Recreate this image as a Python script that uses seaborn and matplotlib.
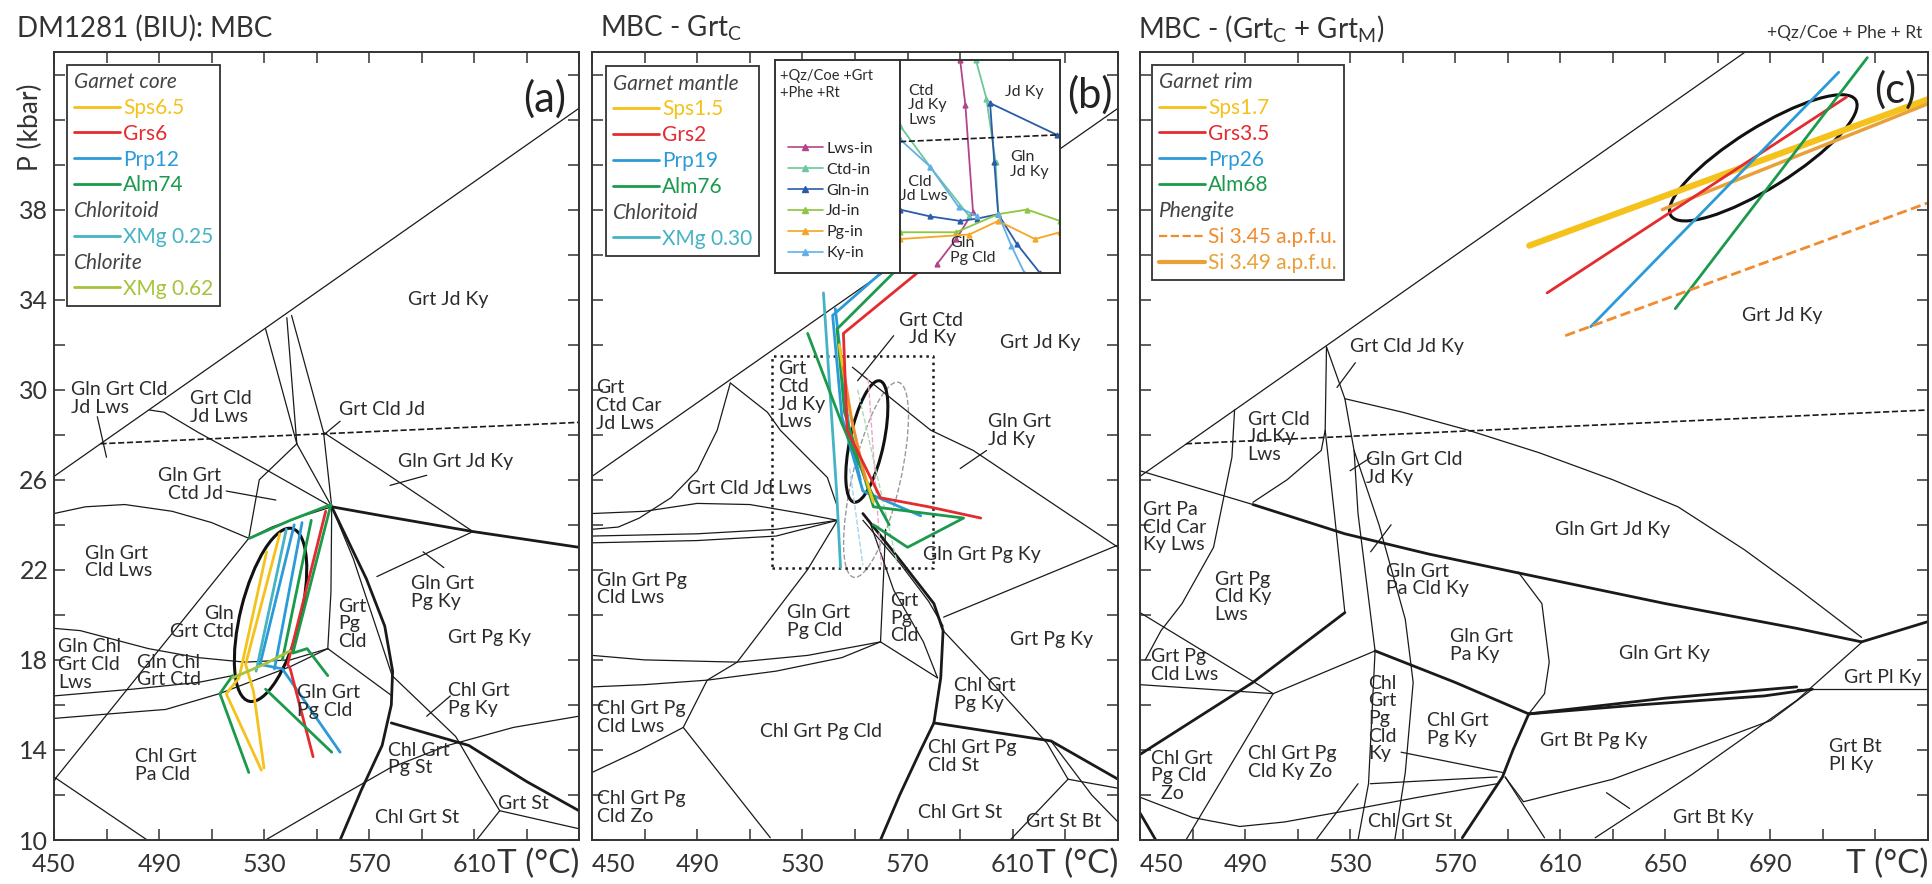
"""
Pseudosections DM1281 (BIU) - MBC, with isopleths of garnet, chloritoid, chlorite and phengite
"""
import pandas as pd
import seaborn as sns
import matplotlib.pyplot as plt
import matplotlib.transforms as mtransforms
from matplotlib.lines import Line2D
from matplotlib.patches import Ellipse

sns.set_style("ticks")
plt.rcParams['font.family'] = ['Lato', 'DejaVu Sans']
plt.rcParams['mathtext.default'] = 'regular'

DPI = 100
P_RANGE = (10, 45)
A_TMAX, B_TMAX, C_TMAX = 650, 650, 750

SPS, GRS, PRP, ALM = '#f4c21b', '#e42b2f', '#2b9bd8', '#1b9a4c'
CTD, CHL = '#45b3c3', '#a5c33b'
PHE_D, PHE_S = '#f08b2e', '#e8a13a'
TXT = '#2b2b2b'

# ---------------- panel (a): DM1281 (BIU): MBC ----------------
A_THIN = [
    [(450, 26.15), (650, 42.5)],
    [(530.6, 32.7), (542.5, 27.6), (528.2, 26.0), (524.2, 23.4), (451, 12.8), (450, 12.6)],
    [(538.7, 33.2), (542.5, 27.6)],
    [(540.5, 33.3), (552.7, 28.1), (555.8, 24.8)],
    [(542.5, 27.6), (555.8, 24.8)],
    [(486.3, 29.1), (492, 29.0), (505, 28.1), (530, 26.5), (555.8, 24.8)],
    [(466.5, 28.8), (470, 27.0)],
    [(450, 24.5), (462, 24.8), (477, 24.9), (495, 24.6), (510, 24.1), (524.2, 23.4)],
    [(524.2, 23.4), (533, 23.9), (545, 24.4), (555.8, 24.8)],
    [(573, 21.7), (609.6, 23.7)],
    [(555.8, 24.8), (564, 22.5), (574, 19.0), (578.8, 17.3)],
    [(555.8, 24.8), (555.5, 21.0), (554.3, 18.5)],
    [(554.3, 18.5), (578.8, 16.4)],
    [(554.3, 18.5), (540, 18.0), (522.7, 17.9)],
    [(450, 19.4), (460, 19.3), (486, 18.5), (505, 18.1), (522.7, 17.9)],
    [(450, 16.4), (480, 16.7), (505, 17.0), (518, 17.3)],
    [(450, 15.4), (471, 15.6), (492.6, 15.8), (513, 16.5), (540, 17.7), (554.3, 18.5)],
    [(450, 12.8), (485.5, 10.0)],
    [(530.6, 10.0), (560, 12.0), (578, 13.2), (600, 14.2), (625, 15.0), (650, 15.5)],
    [(578.8, 17.3), (603, 14.6), (612, 12.8), (619.8, 11.3)],
    [(619.8, 11.3), (611, 10.0)],
    [(619.8, 11.3), (650, 10.5)],
    [(552.7, 28.1), (575, 26.4), (609.6, 23.7)],
    [(515.6, 25.5), (534.5, 25.1)],
    [(578, 25.75), (592, 26.2)],
    [(590.6, 22.8), (598.5, 22.1)],
    [(592, 15.5), (601, 16.4)],
    [(559, 28.6), (552.8, 28.0)],
]
A_THICK = [
    [(555.8, 24.8), (575, 24.4), (609.6, 23.7), (650, 23.0)],
    [(555.8, 24.8), (569, 21.6), (576, 19.5), (579, 17.5), (578.5, 16.0), (575, 14.2),
     (567, 12.2), (559, 10.0)],
    [(578.5, 15.2), (608, 14.2), (630, 12.6), (650, 11.3)],
]
A_DASHED = [[(467.7, 27.6), (650, 28.55)]]
A_ISO = [
    (SPS, [(536, 23.6), (523, 17.8), (526, 16.6), (530, 13.2)]),
    (SPS, [(531, 22.8), (520.5, 17.2), (515.6, 16.5), (529, 13.1)]),
    (CTD, [(538.5, 23.8), (527, 17.5)]),
    (PRP, [(541.5, 24.0), (528.5, 17.8), (537, 17.6), (559, 13.9)]),
    (PRP, [(544.5, 24.1), (534, 17.6)]),
    (GRS, [(553.5, 24.6), (539, 17.8), (540, 17.6), (548.7, 13.7)]),
    (ALM, [(524.5, 23.4), (540, 24.2), (555.5, 24.9)]),
    (ALM, [(555.5, 24.9), (541, 18.3), (546.4, 18.5), (554.3, 17.3)]),
    (ALM, [(548, 24.2), (537, 18.0)]),
    (ALM, [(518, 17.3), (513.2, 16.5), (524.2, 13.0)]),
    (ALM, [(530.6, 16.7), (555.8, 13.9)]),
    (CHL, [(518, 17.2), (530, 17.8), (540, 18.4)]),
]
A_ELLIPSE = (532.5, 20.0, 89, 30, 76)
A_LABELS = [
    ("Grt Jd Ky", 585, 34.0, 'left'),
    ("Gln Grt Cld\nJd Lws", 456.3, 29.6, 'left'),
    ("Grt Cld\nJd Lws", 502, 29.2, 'left'),
    ("Grt Cld Jd", 558.5, 29.1, 'left'),
    ("Gln Grt\n  Ctd Jd", 489.5, 25.8, 'left'),
    ("Gln Grt Jd Ky", 581, 26.8, 'left'),
    ("Gln Grt\nCld Lws", 461.8, 22.35, 'left'),
    ("Gln Grt\nPg Ky", 586, 21.0, 'left'),
    ("Grt Pg Ky", 600, 19.0, 'left'),
    ("Grt\nPg\nCld", 558.3, 19.6, 'left'),
    ("Gln\nGrt Ctd", 518.5, 19.65, 'right'),
    ("Gln Chl\nGrt Cld\nLws", 451.6, 17.8, 'left'),
    ("Gln Chl\nGrt Ctd", 481.6, 17.5, 'left'),
    ("Gln Grt\nPg Cld", 542.4, 16.15, 'left'),
    ("Chl Grt\nPg Ky", 600, 16.25, 'left'),
    ("Chl Grt\nPa Cld", 480.8, 13.3, 'left'),
    ("Chl Grt\nPg St", 577.2, 13.6, 'left'),
    ("Chl Grt St", 572.4, 11.0, 'left'),
    ("Grt St", 619, 11.6, 'left'),
]

# ---------------- panel (b): MBC - Grt_C ----------------
B_THIN = [
    [(450, 26.15), (650, 42.5)],
    [(450, 23.8), (460, 23.9), (468, 24.3), (480, 25.2), (490, 26.4), (497.6, 28.2), (502.6, 30.3)],
    [(502.6, 30.3), (516.7, 29.0), (521.6, 28.2), (539.5, 26.1), (543.3, 24.8)],
    [(450, 24.5), (470, 24.6), (490, 24.95), (510, 24.9), (530, 24.5), (543.3, 24.2)],
    [(450, 23.5), (490, 23.6), (520, 23.8), (543.3, 24.2)],
    [(450, 23.2), (490, 23.3), (520, 23.5), (543.3, 24.2)],
    [(543.3, 24.2), (531.9, 22.0), (505.2, 17.9), (493.8, 17.1), (484.7, 15.0), (468.3, 14.0),
     (450, 13.0)],
    [(450, 18.2), (470, 18.0), (505.2, 17.9), (532, 18.2), (559.7, 18.8)],
    [(450, 16.8), (470, 16.9), (493.8, 17.1), (520, 17.5), (545, 18.1), (559.7, 18.8)],
    [(559.7, 18.8), (561, 22.1), (561.6, 23.8)],
    [(559.7, 18.8), (581.4, 17.2)],
    [(556, 24.0), (564.7, 21.1), (576, 18.8), (581.4, 17.2)],
    [(553, 24.2), (567, 22.3), (578, 20.6), (583.5, 19.5)],
    [(583.7, 19.9), (650, 23.1)],
    [(549, 31.0), (578.8, 28.2), (595, 27.3), (650, 23.0)],
    [(583.5, 19.3), (602, 17.0), (623, 14.3), (631, 12.7)],
    [(631, 12.7), (609, 10.0)],
    [(631, 12.7), (650, 12.3)],
    [(624.5, 14.4), (640, 12.0), (650, 10.8)],
    [(484.7, 15.0), (517.8, 10.1)],
    [(564.7, 32.4), (551, 30.4)],
    [(590, 26.5), (600, 27.3)],
]
B_THICK = [
    [(553, 24.5), (566, 22.6), (580, 20.5), (583.5, 19.3), (582.6, 17.2), (580, 15.2),
     (575, 14.0), (567, 12.0), (559.7, 10.0)],
    [(580, 15.2), (624.5, 14.4), (650, 12.7)],
]
B_BOX = [[(518.6, 22.1), (579.5, 22.1), (579.5, 31.5), (518.6, 31.5), (518.6, 22.1)]]
B_ISO = [
    (CTD, [(538, 34.3), (541, 29.0), (543, 25.5), (544.5, 22.1)]),
    (PRP, [(560, 35.2), (541.5, 33.3), (545, 28.8), (553, 25.5), (575, 24.4)]),
    (PRP, [(542.5, 33.6), (548, 28.0), (552, 26.0)]),
    (ALM, [(532, 32.5), (545, 28.5), (556, 25.5), (563, 24.0)]),
    (ALM, [(564.7, 35.2), (543.2, 32.7), (546, 29.0), (557, 24.8), (591.3, 24.3), (570, 23.0),
           (557, 24.0)]),
    (SPS, [(544, 32.0), (548, 29.0), (553, 26.5), (557, 25.0)]),
    (PHE_D, [(545.5, 31.0), (549, 28.5), (554, 26.0)]),
    (GRS, [(573.8, 35.2), (545.6, 32.5), (547, 28.2), (559.7, 25.2), (578, 24.8), (597.8, 24.3)]),
]
B_PASTEL = [
    ('#e9a6c9', [(555, 30.5), (560, 22.2)]),
    ('#a8dcb5', [(551, 30.0), (566, 22.3)]),
    ('#a7d3f0', [(548, 26.5), (553, 22.2)]),
]
B_ELLIPSE = (554.5, 27.7, 62, 17, 78)
B_OLD_ELLIPSE = (558, 26.0, 100, 24, 77)
B_LABELS = [
    ("Grt\nCtd Car\nJd Lws", 451.5, 29.3, 'left'),
    ("Grt\nCtd\nJd Ky\nLws", 520.9, 29.75, 'left'),
    ("Grt Ctd\n  Jd Ky", 566.6, 32.7, 'left'),
    ("Grt Jd Ky", 605, 32.1, 'left'),
    ("Gln Grt\nJd Ky", 600.5, 28.2, 'left'),
    ("Grt Cld Jd Lws", 486, 25.6, 'left'),
    ("Gln Grt Pg Ky", 575.7, 22.7, 'left'),
    ("Gln Grt Pg\nCld Lws", 452, 21.15, 'left'),
    ("Gln Grt\nPg Cld", 524, 19.7, 'left'),
    ("Grt\nPg\nCld", 563.5, 19.85, 'left'),
    ("Grt Pg Ky", 609, 18.9, 'left'),
    ("Chl Grt\nPg Ky", 587.5, 16.45, 'left'),
    ("Chl Grt Pg\nCld Lws", 452, 15.45, 'left'),
    ("Chl Grt Pg Cld", 514, 14.8, 'left'),
    ("Chl Grt Pg\nCld St", 577.6, 13.7, 'left'),
    ("Chl Grt Pg\nCld Zo", 452, 11.45, 'left'),
    ("Chl Grt St", 574, 11.2, 'left'),
    ("Grt St Bt", 615, 10.8, 'left'),
]
# inset of panel (b): phase-in lines
INSET_LIMITS = ((518.6, 579.5), (22.1, 31.5))
LWS_IN, CTD_IN, GLN_IN = '#b5448a', '#6cc79a', '#2a5caa'
JD_IN, PG_IN, KY_IN = '#8dc63f', '#f5a623', '#62b0e8'
INSET_LINES = [
    (LWS_IN, [(541.5, 31.5), (543.5, 29.5), (546.4, 24.8), (540, 23.6), (532.7, 22.5)]),
    (CTD_IN, [(547.5, 31.5), (551.5, 29.8), (555, 27.0), (556, 24.7)]),
    (CTD_IN, [(518.6, 28.6), (530, 26.8), (545, 24.6)]),
    (GLN_IN, [(552.9, 29.6), (578.3, 28.2)]),
    (GLN_IN, [(552.9, 29.6), (554.5, 27.0), (556, 24.7), (563, 23.4), (571.9, 22.1)]),
    (GLN_IN, [(518.6, 24.9), (530, 24.6), (541.5, 24.4), (548, 24.5), (556, 24.7)]),
    (JD_IN, [(518.6, 23.9), (540, 23.9), (556, 24.7), (567, 24.9), (579.5, 24.4)]),
    (PG_IN, [(518.6, 23.6), (545, 23.8), (556, 24.4), (570, 23.6), (579.5, 23.9)]),
    (KY_IN, [(518.6, 28.0), (530, 26.8), (541, 25.0), (548, 24.6)]),
    (KY_IN, [(556, 24.7), (561, 23.3), (566, 22.1)]),
]
INSET_DASHED = [[(518.6, 27.9), (579.5, 28.2)]]
INSET_LABELS = [
    ("Ctd\nJd Ky\nLws", 521.8, 29.5),
    ("Jd Ky", 558.6, 30.1),
    ("Gln\nJd Ky", 560.5, 26.9),
    ("  Cld\nJd Lws", 518.6, 25.8),
    ("Gln\nPg Cld", 537.6, 23.1),
]

# ---------------- panel (c): MBC - (Grt_C + Grt_M) ----------------
C_THIN = [
    [(450, 26.15), (680.4, 45)],
    [(521, 31.9), (520.5, 28.2), (519, 27.3), (506, 26.0), (493, 25.0)],
    [(520.5, 28.2), (524, 24.5), (528, 20.1)],
    [(521, 31.9), (528, 29.6), (531.5, 27.3), (533, 24.5), (539.5, 18.4)],
    [(528, 29.6), (550, 29.0), (575, 28.2), (602, 27.2), (630, 26.0), (654.8, 24.8), (680, 22.9),
     (700, 21.2), (724.7, 19.0)],
    [(450, 26.4), (493, 24.9)],
    [(594, 21.9), (603, 20.5), (605.8, 17.9), (604, 16.5), (598, 15.6)],
    [(700, 16.7), (750, 16.7)],
    [(450, 16.9), (500.7, 16.5)],
    [(539.5, 18.4), (500.7, 16.5)],
    [(500.7, 16.5), (467.5, 10.0)],
    [(450, 20.1), (500.7, 16.5)],
    [(486, 29.1), (485, 27.0), (478, 23.0), (466, 20.5), (458, 19.3), (452, 18.0)],
    [(531.5, 27.3), (541, 24.0), (551, 19.8), (554, 17.0), (551, 13.0), (547, 10.0)],
    [(539.5, 18.4), (537, 12.5), (533, 10.0)],
    [(549.4, 13.9), (588, 13.0)],
    [(537.7, 12.5), (586, 12.8)],
    [(450, 11.9), (470, 11.0), (488, 10.6), (505, 10.8), (524, 11.2), (556, 11.9), (586, 12.5)],
    [(589, 12.8), (604, 10.1)],
    [(589, 12.8), (596, 11.7), (630, 12.7), (660, 14.0), (690, 15.3), (706, 16.7)],
    [(623.3, 10.1), (660, 12.9), (700, 16.2), (725, 18.8)],
    [(533, 12.5), (517, 10.0)],
    [(525, 30.1), (532, 31.2)],
    [(530, 26.4), (538, 27.0)],
    [(537.8, 22.8), (545.6, 24.0)],
    [(627.6, 12.1), (636.4, 11.4)],
]
C_THICK = [
    [(493, 24.9), (528, 23.6), (560, 22.7), (592.5, 21.9), (650, 20.5), (700, 19.4), (724.7, 18.8)],
    [(724.7, 18.8), (750, 19.7)],
    [(598, 15.6), (640, 16.0), (687.7, 16.4), (706, 16.7)],
    [(598, 15.6), (650, 16.3), (700, 16.8)],
    [(598, 15.6), (592, 14.0), (588, 12.8), (572.7, 10.1)],
    [(598, 15.6), (570, 17.0), (539.5, 18.4)],
    [(528, 20.1), (493, 17.0), (450, 13.8)],
    [(450, 11.2), (456, 10.0)],
]
C_DASHED = [[(467.5, 27.6), (750, 29.1)]]
C_ISO = [
    (SPS, [(598.2, 36.4), (750, 42.9)], 4.5, '-'),
    (PHE_S, [(648.9, 38.0), (750, 42.7)], 2.5, '-'),
    (GRS, [(605, 34.3), (719, 43.0)], 2.0, '-'),
    (PRP, [(621.6, 32.8), (716, 44.1)], 2.0, '-'),
    (ALM, [(653.8, 33.6), (726.9, 44.75)], 2.0, '-'),
    (PHE_D, [(611.9, 32.4), (750, 38.3)], 2.0, '--'),
]
C_ELLIPSE = (687.3, 40.3, 109, 30, 32)
C_LABELS = [
    ("Grt Jd Ky", 679, 33.3, 'left'),
    ("Grt Cld Jd Ky", 530, 31.9, 'left'),
    ("Grt Cld\nJd Ky\nLws", 491, 27.9, 'left'),
    ("Gln Grt Cld\nJd Ky", 535.9, 26.5, 'left'),
    ("Grt Pa\nCld Car\nKy Lws", 451, 23.9, 'left'),
    ("Grt Pg\nCld Ky\nLws", 478.4, 20.8, 'left'),
    ("Gln Grt Jd Ky", 608, 23.8, 'left'),
    ("Gln Grt\nPa Cld Ky", 543.7, 21.55, 'left'),
    ("Gln Grt\nPa Ky", 568, 18.65, 'left'),
    ("Gln Grt Ky", 632.3, 18.3, 'left'),
    ("Grt Pl Ky", 718.1, 17.2, 'left'),
    ("Grt Pg\nCld Lws", 454, 17.75, 'left'),
    ("Chl\nGrt\nPg\nCld\nKy", 536.8, 15.4, 'left'),
    ("Chl Grt\nPg Ky", 559.3, 14.9, 'left'),
    ("Grt Bt Pg Ky", 602.1, 14.4, 'left'),
    ("Grt Bt\nPl Ky", 712.3, 13.75, 'left'),
    ("Chl Grt\nPg Cld\n  Zo", 454, 12.85, 'left'),
    ("Chl Grt Pg\nCld Ky Zo", 491, 13.45, 'left'),
    ("Chl Grt St", 536.8, 10.8, 'left'),
    ("Grt Bt Ky", 652.8, 11.0, 'left'),
]

# legends: (label, colour, linestyle, linewidth); colour None marks a header
A_LEGEND = [("Garnet core", None, '', 0), ("Sps6.5", SPS, '-', 2), ("Grs6", GRS, '-', 2),
            ("Prp12", PRP, '-', 2), ("Alm74", ALM, '-', 2), ("Chloritoid", None, '', 0),
            ("XMg 0.25", CTD, '-', 2), ("Chlorite", None, '', 0), ("XMg 0.62", CHL, '-', 2)]
B_LEGEND = [("Garnet mantle", None, '', 0), ("Sps1.5", SPS, '-', 2), ("Grs2", GRS, '-', 2),
            ("Prp19", PRP, '-', 2), ("Alm76", ALM, '-', 2), ("Chloritoid", None, '', 0),
            ("XMg 0.30", CTD, '-', 2)]
C_LEGEND = [("Garnet rim", None, '', 0), ("Sps1.7", SPS, '-', 2), ("Grs3.5", GRS, '-', 2),
            ("Prp26", PRP, '-', 2), ("Alm68", ALM, '-', 2), ("Phengite", None, '', 0),
            ("Si 3.45 a.p.f.u.", PHE_D, '--', 1.6), ("Si 3.49 a.p.f.u.", PHE_S, '-', 3)]
INSET_LEGEND = [("Lws-in", LWS_IN), ("Ctd-in", CTD_IN), ("Gln-in", GLN_IN),
                ("Jd-in", JD_IN), ("Pg-in", PG_IN), ("Ky-in", KY_IN)]


def draw_lines(ax, lines, lw, ls='-', color='#1a1a1a'):
    for pts in lines:
        t, p = zip(*pts)
        ax.plot(t, p, color=color, lw=lw, ls=ls, solid_joinstyle='round')


def draw_isopleths(ax, curves):
    for curve in curves:
        color, pts = curve[0], curve[1]
        lw = curve[2] if len(curve) > 2 else 2.0
        ls = curve[3] if len(curve) > 3 else '-'
        df = pd.DataFrame(pts, columns=['T', 'P'])
        sns.lineplot(data=df, x='T', y='P', sort=False, estimator=None,
                     color=color, lw=lw, ls=ls, ax=ax)


def draw_ellipse(ax, spec, **kw):
    cx, cy, a_px, b_px, angle = spec
    trans = ax.figure.dpi_scale_trans + mtransforms.ScaledTranslation(cx, cy, ax.transData)
    ax.add_patch(Ellipse((0, 0), 2 * a_px / DPI, 2 * b_px / DPI, angle=angle,
                         transform=trans, fill=False, **kw))


def draw_labels(ax, labels, size=14):
    for text, t, p, ha in labels:
        ax.text(t, p, text, ha=ha, va='center', multialignment=ha, fontsize=size,
                color=TXT, linespacing=1.05, clip_on=True)


def flush_headers(leg, flags):
    # headers sit at the left edge of the box, without a line key in front
    try:
        rows = leg._legend_handle_box.get_children()[0].get_children()
        for row, is_header in zip(rows, flags):
            if is_header:
                row.get_children()[0].width = 0
                row.sep = 0
    except (AttributeError, IndexError):
        pass


def add_legend(ax, entries, anchor):
    handles = []
    for label, color, ls, lw in entries:
        if color is None:
            handles.append(Line2D([], [], color='none', label=label))
        else:
            handles.append(Line2D([], [], color=color, ls=ls, lw=lw, label=label))
    leg = ax.legend(handles=handles, loc='upper left', bbox_to_anchor=anchor, fontsize=15,
                    frameon=True, fancybox=False, edgecolor='#333333', framealpha=1,
                    handlelength=2.2, handletextpad=0.15, labelspacing=0.28, borderpad=0.35)
    leg.get_frame().set_linewidth(1.3)
    for txt, (label, color, ls, lw) in zip(leg.get_texts(), entries):
        if color is None:
            txt.set_style('italic')
            txt.set_color('#444444')
        else:
            txt.set_color(color)
    flush_headers(leg, [e[1] is None for e in entries])
    return leg


def setup_axes(ax, tmax, show_y):
    ax.set_xlim(450, tmax)
    ax.set_ylim(*P_RANGE)
    xt = list(range(450, tmax + 1, 20))
    ax.set_xticks(xt)
    ax.set_xticklabels([str(v) if (v - 450) % 40 == 0 and v <= tmax - 40 else '' for v in xt])
    yt = list(range(10, 45, 2))
    ax.set_yticks(yt)
    ax.set_yticklabels([str(v) if (v - 10) % 4 == 0 and v <= 38 else '' for v in yt])
    ax.tick_params(direction='in', top=True, right=True, length=8, width=1.1,
                   labelsize=18, labelleft=show_y, colors='#333333')
    ax.tick_params(axis='x', pad=9)
    ax.tick_params(axis='y', pad=4)
    if not show_y:
        ax.get_xticklabels()[0].set_horizontalalignment('left')
    for s in ax.spines.values():
        s.set_linewidth(1.4)
        s.set_color('#333333')
    ax.set_xlabel('')
    ax.set_ylabel('')
    ax.text(1.0, -0.03, "T (°C)", transform=ax.transAxes, ha='right', va='center',
            fontsize=24, color='#333333')


fig = plt.figure(figsize=(19.32, 8.84), dpi=DPI)
ax_a = fig.add_axes([54 / 1932, 44 / 884, 525 / 1932, 788 / 884])
ax_b = fig.add_axes([592 / 1932, 44 / 884, 526 / 1932, 788 / 884])
ax_c = fig.add_axes([1140 / 1932, 44 / 884, 788 / 1932, 788 / 884])

# panel (a)
draw_lines(ax_a, A_THIN, 0.9)
draw_lines(ax_a, A_THICK, 2.0)
draw_lines(ax_a, A_DASHED, 1.2, '--')
draw_isopleths(ax_a, A_ISO)
draw_ellipse(ax_a, A_ELLIPSE, color='#111111', lw=2.2)
draw_labels(ax_a, A_LABELS)
setup_axes(ax_a, A_TMAX, True)
add_legend(ax_a, A_LEGEND, (0.004, 0.997))
ax_a.text(0.975, 0.94, "(a)", transform=ax_a.transAxes, ha='right', va='center',
          fontsize=30, color='#222222')
ax_a.text(-0.044, 0.905, "P (kbar)", transform=ax_a.transAxes, rotation=90, ha='center',
          va='center', fontsize=19, color='#333333')

# panel (b)
draw_lines(ax_b, B_THIN, 0.9)
draw_lines(ax_b, B_THICK, 2.0)
draw_lines(ax_b, B_BOX, 1.8, ':')
for color, pts in B_PASTEL:
    draw_lines(ax_b, [pts], 1.0, '--', color)
draw_ellipse(ax_b, B_OLD_ELLIPSE, color='#9a9a9a', lw=1.0, ls='--')
draw_isopleths(ax_b, B_ISO)
draw_ellipse(ax_b, B_ELLIPSE, color='#111111', lw=2.2)
draw_labels(ax_b, B_LABELS)
setup_axes(ax_b, B_TMAX, False)
add_legend(ax_b, B_LEGEND, (0.006, 0.995))
ax_b.text(0.99, 0.945, "(b)", transform=ax_b.transAxes, ha='right', va='center',
          fontsize=30, color='#222222', zorder=10)

# panel (b) inset: legend box and zoom box
ax_il = ax_b.inset_axes([0.348, 0.7195, 0.2376, 0.2703])
ax_il.set_xticks([])
ax_il.set_yticks([])
for s in ax_il.spines.values():
    s.set_linewidth(1.4)
    s.set_color('#333333')
ax_il.text(0.04, 0.96, "+Qz/Coe +Grt\n+Phe +Rt", transform=ax_il.transAxes, ha='left',
           va='top', fontsize=10.5, color=TXT, linespacing=1.3)
inset_handles = [Line2D([], [], color=c, lw=1.2, marker='^', ms=4, label=l)
                 for l, c in INSET_LEGEND]
ax_il.legend(handles=inset_handles, loc='lower left', bbox_to_anchor=(0.0, 0.0),
             frameon=False, fontsize=11.5, handlelength=2.2, handletextpad=0.2,
             labelspacing=0.42, borderpad=0.3)

ax_iz = ax_b.inset_axes([0.5856, 0.7195, 0.304, 0.2703])
ax_iz.set_xlim(*INSET_LIMITS[0])
ax_iz.set_ylim(*INSET_LIMITS[1])
ax_iz.set_xticks([])
ax_iz.set_yticks([])
for s in ax_iz.spines.values():
    s.set_linewidth(1.4)
    s.set_color('#333333')
for color, pts in INSET_LINES:
    t, p = zip(*pts)
    ax_iz.plot(t, p, color=color, lw=1.3, marker='^', ms=3.5)
draw_lines(ax_iz, INSET_DASHED, 1.2, '--')
for text, t, p in INSET_LABELS:
    ax_iz.text(t, p, text, ha='left', va='center', fontsize=11.5, color=TXT, linespacing=1.05)

# panel (c)
draw_lines(ax_c, C_THIN, 0.9)
draw_lines(ax_c, C_THICK, 2.0)
draw_lines(ax_c, C_DASHED, 1.2, '--')
draw_isopleths(ax_c, C_ISO)
draw_ellipse(ax_c, C_ELLIPSE, color='#111111', lw=2.2)
draw_labels(ax_c, C_LABELS)
setup_axes(ax_c, C_TMAX, False)
add_legend(ax_c, C_LEGEND, (0.002, 0.997))
ax_c.text(0.985, 0.952, "(c)", transform=ax_c.transAxes, ha='right', va='center',
          fontsize=30, color='#222222')

# titles
fig.text(17 / 1932, 1 - 28 / 884, "DM1281 (BIU): MBC", ha='left', va='center', fontsize=20,
         color='#333333')
fig.text(600 / 1932, 1 - 28 / 884, "MBC - Grt$_C$", ha='left', va='center', fontsize=20,
         color='#333333')
fig.text(1138 / 1932, 1 - 28 / 884, "MBC - (Grt$_C$ + Grt$_M$)", ha='left', va='center',
         fontsize=20, color='#333333')
fig.text(1922 / 1932, 1 - 33 / 884, "+Qz/Coe + Phe + Rt", ha='right', va='center',
         fontsize=12.5, color='#333333')

fig.savefig("out.png", dpi=DPI, facecolor='white')
